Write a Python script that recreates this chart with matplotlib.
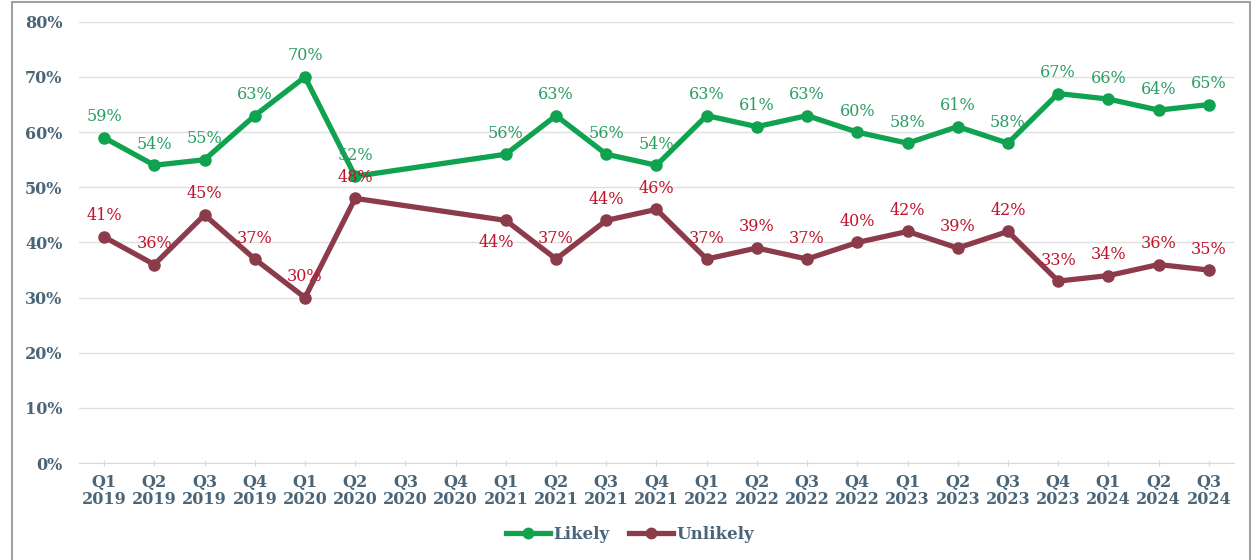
import numpy as np
import matplotlib
matplotlib.use("Agg")
import matplotlib.pyplot as plt
from matplotlib.patches import Rectangle
from matplotlib.lines import Line2D

quarters = ["Q1\n2019", "Q2\n2019", "Q3\n2019", "Q4\n2019",
            "Q1\n2020", "Q2\n2020", "Q3\n2020", "Q4\n2020",
            "Q1\n2021", "Q2\n2021", "Q3\n2021", "Q4\n2021",
            "Q1\n2022", "Q2\n2022", "Q3\n2022", "Q4\n2022",
            "Q1\n2023", "Q2\n2023", "Q3\n2023", "Q4\n2023",
            "Q1\n2024", "Q2\n2024", "Q3\n2024"]
likely = [59, 54, 55, 63, 70, 52, None, None, 56, 63, 56, 54,
          63, 61, 63, 60, 58, 61, 58, 67, 66, 64, 65]
unlikely = [41, 36, 45, 37, 30, 48, None, None, 44, 37, 44, 46,
            37, 39, 37, 40, 42, 39, 42, 33, 34, 36, 35]
y_ticks = [0, 10, 20, 30, 40, 50, 60, 70, 80]

GREEN = "#0fa24f"
GREEN_TXT = "#2a9d63"
MAROON = "#8c3b4b"
RED_TXT = "#c0142c"
TICK = "#4a6578"

fig = plt.figure(figsize=(12.6, 5.6), dpi=100)
ax = fig.add_axes([0.0627, 0.173, 0.9166, 0.788])

x = np.arange(len(quarters))

def valid(vals):
    xs = [i for i, v in enumerate(vals) if v is not None]
    ys = [vals[i] for i in xs]
    return np.array(xs), np.array(ys, dtype=float)

lx, ly = valid(likely)
ux, uy = valid(unlikely)

ax.plot(lx, ly, color=GREEN, lw=3.8, marker="o", ms=8, zorder=3,
        solid_joinstyle="round")
ax.plot(ux, uy, color=MAROON, lw=3.8, marker="o", ms=8, zorder=3,
        solid_joinstyle="round")

lab_font = dict(family="DejaVu Serif", fontsize=11.5)
for i, v in zip(lx, ly):
    ax.annotate(f"{int(v)}%", (i, v), xytext=(0, 9), textcoords="offset points",
                ha="center", va="bottom", color=GREEN_TXT, zorder=4, **lab_font)
for i, v in zip(ux, uy):
    if i == 8:
        off = (-7, -22)
    else:
        off = (0, 9)
    ax.annotate(f"{int(v)}%", (i, v), xytext=off, textcoords="offset points",
                ha="center", va="bottom", color=RED_TXT, zorder=4, **lab_font)

ax.set_xlim(-0.5, len(quarters) - 0.5)
ax.set_ylim(0, 80)
ax.set_yticks(y_ticks)
ax.set_yticklabels([f"{t}%" for t in y_ticks])
ax.set_xticks(x)
ax.set_xticklabels(quarters)
for lbl in ax.get_xticklabels() + ax.get_yticklabels():
    lbl.set_fontfamily("DejaVu Serif")
    lbl.set_fontweight("bold")
    lbl.set_fontsize(11.5)
    lbl.set_color(TICK)
for lbl in ax.get_xticklabels():
    lbl.set_linespacing(1.05)

ax.grid(axis="y", color="#e0e0e0", lw=1)
ax.set_axisbelow(True)
for s in ["top", "right", "left"]:
    ax.spines[s].set_visible(False)
ax.spines["bottom"].set_color("#d9d9d9")
ax.tick_params(axis="y", length=0, pad=12)
ax.tick_params(axis="x", length=5, color="#d9d9d9", direction="inout", pad=5)

handles = [Line2D([], [], color=GREEN, lw=3.8, marker="o", ms=7.5),
           Line2D([], [], color=MAROON, lw=3.8, marker="o", ms=7.5)]
leg = fig.legend(handles, ["Likely", "Unlikely"], loc="center",
                 bbox_to_anchor=(0.5, 0.045), ncol=2, frameon=False,
                 handlelength=2.6, handletextpad=0.2, columnspacing=1.2,
                 prop=dict(family="DejaVu Serif", weight="bold", size=12))
for t in leg.get_texts():
    t.set_color(TICK)

fig.patches.append(Rectangle((12 / 1260, -0.05), 1238 / 1260, 1.046,
                             transform=fig.transFigure, fill=False,
                             edgecolor="#9aa3ab", lw=1.5))

fig.savefig("out.png", dpi=100)
